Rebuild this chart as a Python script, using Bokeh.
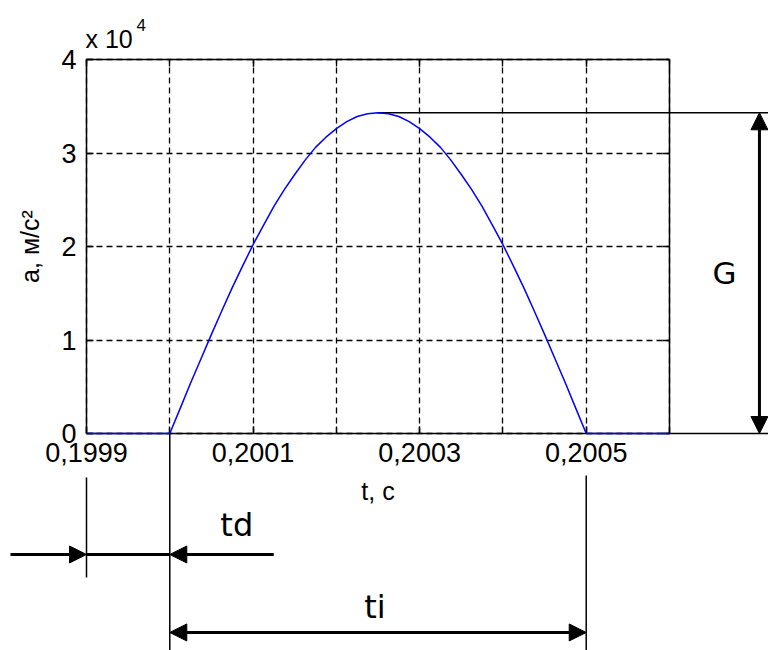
from bokeh.plotting import figure
from bokeh.models import (FixedTicker, LinearAxis, Range1d, Arrow, NormalHead, Label)
from bokeh.embed import file_html
from bokeh.resources import INLINE

# Acceleration pulse a(t): time in seconds, acceleration in m/s^2
t = [0.1999, 0.2,
     0.2000125, 0.200025, 0.2000375, 0.20005, 0.2000625, 0.200075, 0.2000875, 0.2001,
     0.2001125, 0.200125, 0.2001375, 0.20015, 0.2001625, 0.200175, 0.2001875, 0.2002,
     0.2002125, 0.200225, 0.2002375, 0.20025, 0.2002625, 0.200275, 0.2002875, 0.2003,
     0.2003125, 0.200325, 0.2003375, 0.20035, 0.2003625, 0.200375, 0.2003875, 0.2004,
     0.2004125, 0.200425, 0.2004375, 0.20045, 0.2004625, 0.200475, 0.2004875, 0.2005,
     0.2006]
a = [0, 0,
     2690, 5400, 8000, 10600, 13130, 15600, 17920, 20200,
     22270, 24300, 26080, 27700, 29240, 30600, 31690, 32600,
     33350, 33900, 34190, 34300, 34190, 33900, 33350, 32600,
     31690, 30600, 29240, 27700, 26080, 24300, 22270, 20200,
     17920, 15600, 13130, 10600, 8000, 5400, 2690, 0,
     0]

# pulse landmarks used by the dimension lines
t_axis_start = 0.1999
pulse_start = 0.2000
pulse_end = 0.2005
peak_t = 0.20025
peak_a = 34300

# axes
t_min, t_max = 0.1999, 0.2006
a_min, a_max = 0, 40000
x_minor = [0.1999, 0.2000, 0.2001, 0.2002, 0.2003, 0.2004, 0.2005, 0.2006]
x_major = [0.1999, 0.2001, 0.2003, 0.2005]
x_major_labels = ["0,1999", "0,2001", "0,2003", "0,2005"]
y_ticks = [0, 10000, 20000, 30000, 40000]
y_tick_labels = ["0", "1", "2", "3", "4"]

TICK_FONT = "Liberation Sans"
NOTE_FONT = "DejaVu Sans"

# The data frame covers the whole canvas so that the dimension lines
# around the plot box can be drawn; the box itself sits inside it.
W, H = 768, 650
box_left, box_right, box_top, box_bottom = 86, 669, 59, 433
sx = (t_max - t_min) / (box_right - box_left)      # seconds per pixel
sy = (a_max - a_min) / (box_bottom - box_top)      # m/s^2 per pixel
x0 = t_min - box_left * sx
x1 = t_max + (W - box_right) * sx
y0 = a_min - (H - box_bottom) * sy
y1 = a_max + box_top * sy

p = figure(width=W, height=H,
           x_range=Range1d(x0, x1), y_range=Range1d(y0, y1),
           output_backend="svg", toolbar_location=None,
           min_border=0, min_border_left=0, min_border_right=0,
           min_border_top=0, min_border_bottom=0,
           background_fill_color="white", border_fill_color="white",
           outline_line_color=None)

# dashed grid at every 0.0001 s and every 1e4 m/s^2, inside the box
p.xgrid.ticker = FixedTicker(ticks=x_minor)
p.ygrid.ticker = FixedTicker(ticks=y_ticks)
p.xgrid.bounds = (t_min, t_max)
p.xgrid.cross_bounds = (a_min, a_max)
p.ygrid.bounds = (a_min, a_max)
p.ygrid.cross_bounds = (t_min, t_max)
for g in (p.xgrid, p.ygrid):
    g.grid_line_color = "black"
    g.grid_line_dash = "6 4"
    g.grid_line_width = 1.3
    g.grid_line_alpha = 1.0

def style_axis(ax):
    ax.axis_line_color = "black"
    ax.axis_line_width = 1.5
    ax.major_tick_line_color = "black"
    ax.minor_tick_line_color = "black"
    ax.major_tick_line_width = 1.3
    ax.minor_tick_line_width = 1.3
    ax.major_tick_in = 7
    ax.major_tick_out = 0
    ax.minor_tick_in = 7
    ax.minor_tick_out = 0
    ax.major_label_text_font = TICK_FONT
    ax.major_label_text_font_size = "27px"
    ax.major_label_text_color = "black"
    ax.axis_label_text_font = TICK_FONT
    ax.axis_label_text_font_style = "normal"
    ax.axis_label_text_color = "black"
    ax.axis_label_text_font_size = "25px"

xa = p.xaxis[0]
xa.fixed_location = a_min
xa.bounds = (t_min, t_max)
xa.ticker = FixedTicker(ticks=x_major, minor_ticks=x_minor)
xa.major_label_overrides = dict(zip(x_major, x_major_labels))
xa.axis_label = "t, с"
xa.major_label_standoff = 9
xa.axis_label_standoff = 12
style_axis(xa)

ya = p.yaxis[0]
ya.fixed_location = t_min
ya.bounds = (a_min, a_max)
ya.ticker = FixedTicker(ticks=y_ticks)
ya.major_label_overrides = dict(zip(y_ticks, y_tick_labels))
ya.axis_label = "a, м/с²"
ya.major_label_standoff = 10
ya.axis_label_standoff = 14
style_axis(ya)

# box edges with inward ticks on the top and right sides
top = LinearAxis(ticker=FixedTicker(ticks=x_major, minor_ticks=x_minor),
                 fixed_location=a_max, bounds=(t_min, t_max))
top.major_label_overrides = {v: "" for v in x_major}
right = LinearAxis(ticker=FixedTicker(ticks=y_ticks),
                   fixed_location=t_max, bounds=(a_min, a_max))
right.major_label_overrides = {v: "" for v in y_ticks}
for ax in (top, right):
    style_axis(ax)
p.add_layout(top, "above")
p.add_layout(right, "right")

# exponent label of the y axis
p.add_layout(Label(x=t_min, y=a_max, x_offset=-1, y_offset=21, text="x 10",
                   text_font=TICK_FONT, text_font_size="25px", text_color="black",
                   text_baseline="middle", text_align="left"))
p.add_layout(Label(x=t_min, y=a_max, x_offset=50, y_offset=35, text="4",
                   text_font=TICK_FONT, text_font_size="17px", text_color="black",
                   text_baseline="middle", text_align="left"))

# dimension drawing
edge_t = x1            # right edge of the drawing
bottom_a = y0          # bottom edge of the drawing
td_level = -12940
ti_level = -21280
g_t = 0.200708

p.segment(x0=[peak_t, t_max, t_axis_start, pulse_start, pulse_end],
          y0=[peak_a, 0, -4700, 0, -4500],
          x1=[edge_t, edge_t, t_axis_start, pulse_start, pulse_end],
          y1=[peak_a, 0, -15400, bottom_a, bottom_a],
          line_color="black", line_width=1.5)

# td dimension line between its two extension lines
p.segment(x0=[t_axis_start], y0=[td_level], x1=[pulse_start], y1=[td_level],
          line_color="black", line_width=3)

# the pulse
p.line(t, a, line_color="blue", line_width=1.5, level="overlay")

def head():
    return NormalHead(size=17, fill_color="black", line_color="black", line_width=1)

# G: pulse amplitude
p.add_layout(Arrow(start=head(), end=head(), x_start=g_t, y_start=0,
                   x_end=g_t, y_end=peak_a, line_color="black", line_width=3))
p.add_layout(Label(x=t_max, y=peak_a / 2, x_offset=55, text="G",
                   text_font=NOTE_FONT, text_font_size="31px", text_color="black",
                   text_align="center", text_baseline="middle"))

# td: delay before the pulse
p.add_layout(Arrow(end=head(), x_start=t_axis_start - 76 * sx, y_start=td_level,
                   x_end=t_axis_start, y_end=td_level, line_color="black", line_width=3))
p.add_layout(Arrow(end=head(), x_start=pulse_start + 104 * sx, y_start=td_level,
                   x_end=pulse_start, y_end=td_level, line_color="black", line_width=3))
p.add_layout(Label(x=pulse_start, y=td_level, x_offset=67, y_offset=29, text="td",
                   text_font=NOTE_FONT, text_font_size="32px", text_color="black",
                   text_align="center", text_baseline="middle"))

# ti: pulse duration
p.add_layout(Arrow(start=head(), end=head(), x_start=pulse_start, y_start=ti_level,
                   x_end=pulse_end, y_end=ti_level, line_color="black", line_width=3))
p.add_layout(Label(x=(pulse_start + pulse_end) / 2, y=ti_level, x_offset=-3, y_offset=25,
                   text="ti", text_font=NOTE_FONT, text_font_size="32px", text_color="black",
                   text_align="center", text_baseline="middle"))

open("out.html", "w").write(file_html(p, INLINE))
